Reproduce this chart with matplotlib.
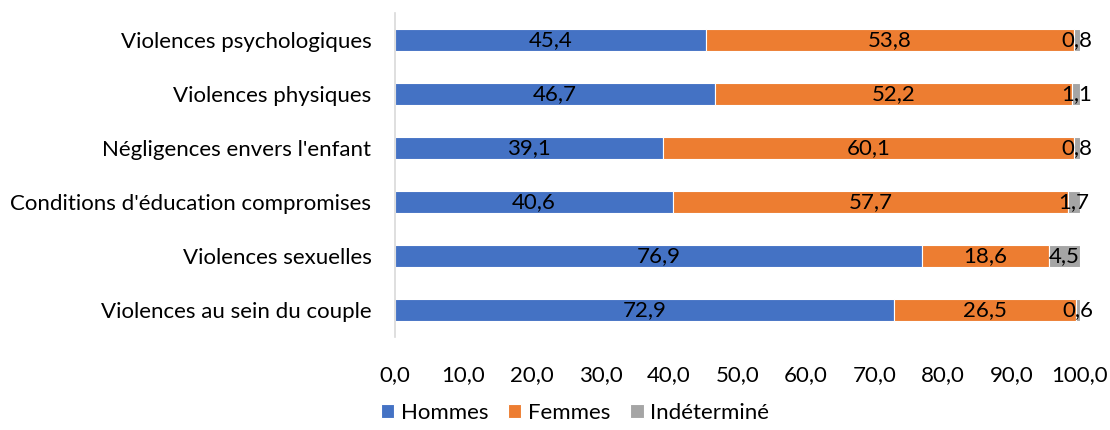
import matplotlib
matplotlib.use("Agg")
import matplotlib.pyplot as plt
import numpy as np

plt.rcParams['font.family'] = ['Lato', 'DejaVu Sans']

categories = [
    "Violences psychologiques",
    "Violences physiques",
    "Négligences envers l'enfant",
    "Conditions d'éducation compromises",
    "Violences sexuelles",
    "Violences au sein du couple",
]
hommes = [45.4, 46.7, 39.1, 40.6, 76.9, 72.9]
femmes = [53.8, 52.2, 60.1, 57.7, 18.6, 26.5]
indetermine = [0.8, 1.1, 0.8, 1.7, 4.5, 0.6]

series = [("Hommes", hommes, "#4472C4"),
          ("Femmes", femmes, "#ED7D31"),
          ("Indéterminé", indetermine, "#A5A5A5")]

fig = plt.figure(figsize=(11.1, 4.3), dpi=100)
ax = fig.add_axes([0.3559, 0.2163, 0.617, 0.7535])

y = np.arange(len(categories))
left = np.zeros(len(categories))
for name, vals, col in series:
    vals = np.array(vals)
    bars = ax.barh(y, vals, left=left, height=0.41, color=col,
                   edgecolor="white", linewidth=0.8, label=name)
    for b, v in zip(bars, vals):
        ax.text(b.get_x() + b.get_width() / 2, b.get_y() + b.get_height() / 2,
                f"{v:.1f}".replace(".", ","), ha="center", va="center",
                fontsize=16, color="black")
    left += vals

ax.set_xlim(0, 100)
ax.set_ylim(len(categories) - 0.5, -0.5)
ax.set_yticks(y)
ax.set_yticklabels(categories, fontsize=16)
ticks = np.arange(0, 101, 10)
ax.set_xticks(ticks)
ax.set_xticklabels([f"{t:.1f}".replace(".", ",") for t in ticks], fontsize=16)
ax.tick_params(axis="y", length=0, pad=17)
ax.tick_params(axis="x", length=0, pad=20)
for s in ["top", "right", "bottom"]:
    ax.spines[s].set_visible(False)
ax.spines["left"].set_color("#D9D9D9")
ax.spines["left"].set_linewidth(1.2)

handles, labels = ax.get_legend_handles_labels()
fig.legend(handles, labels, loc="lower center", bbox_to_anchor=(0.518, -0.03),
           ncol=3, frameon=False, fontsize=16, handlelength=0.6,
           handleheight=0.6, handletextpad=0.3, columnspacing=0.9)

fig.savefig("out.png", dpi=100)
